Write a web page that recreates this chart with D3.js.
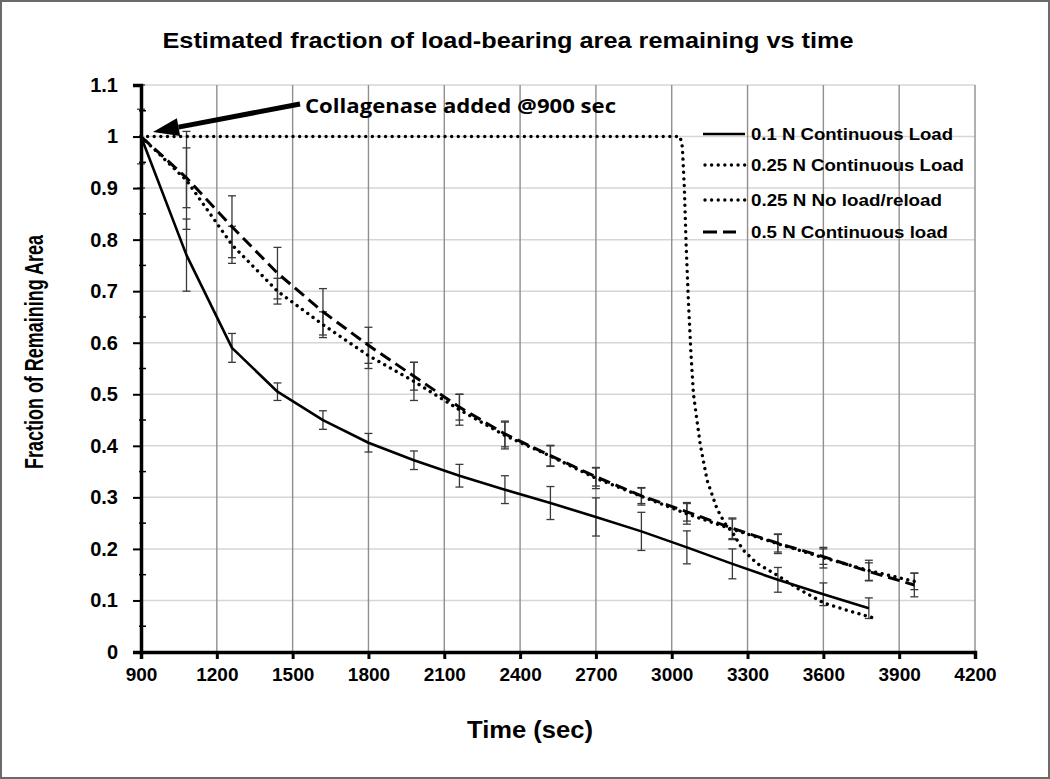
<!DOCTYPE html>
<html><head><meta charset="utf-8">
<script src="https://cdn.jsdelivr.net/npm/d3@7"></script>
<style>body{margin:0;background:#fff}svg{display:block}</style>
</head><body>
<svg id="chart" width="1050" height="779"></svg>
<script>
// ---------------- DATA ----------------
const times = [900,1080,1260,1440,1620,1800,1980,2160,2340,2520,2700,2880,3060,3240,3420,3600,3780,3960];

const load01Value = [1,0.77,0.59,0.505,0.45,0.406,0.372,0.342,0.315,0.289,0.262,0.234,0.203,0.171,0.14,0.112,0.085];
const load01Err   = [0,0.07,0.028,0.017,0.018,0.018,0.018,0.022,0.027,0.032,0.037,0.037,0.032,0.029,0.024,0.022,0.02];

const load025Value = [1,0.915,0.79,0.70,0.635,0.575,0.525,0.47,0.42,0.38,0.337,0.302,0.268,0.238,0.21,0.183,0.158,0.137];
const load025Err   = [0.1,0.095,0.036,0.025,0.025,0.025,0.037,0.03,0.026,0.02,0.02,0.017,0.02,0.02,0.019,0.02,0.02,0.016];

const load05Value = [1,0.92,0.825,0.735,0.66,0.595,0.535,0.475,0.423,0.381,0.34,0.303,0.272,0.24,0.211,0.185,0.156,0.13];
const load05Err   = [0.053,0.058,0.06,0.05,0.045,0.035,0.027,0.025,0.025,0.02,0.018,0.015,0.018,0.02,0.017,0.015,0.017,0.023];

const noloadTime  = [900,3033,3042,3050,3057,3066,3076,3086,3112,3140,3179,3210,3243,3282,3337,3417,3496,3602,3700,3785,3810];
const noloadValue = [1,1,0.98,0.9,0.79,0.68,0.58,0.5,0.405,0.333,0.278,0.25,0.23,0.198,0.172,0.149,0.124,0.095,0.08,0.068,0.065];

const xTickValues = [900,1200,1500,1800,2100,2400,2700,3000,3300,3600,3900,4200];
const yTickValues = [0,0.1,0.2,0.3,0.4,0.5,0.6,0.7,0.8,0.9,1,1.1];
const yTickLabels = ["0","0.1","0.2","0.3","0.4","0.5","0.6","0.7","0.8","0.9","1","1.1"];

const seriesNames = ["0.1 N Continuous Load","0.25 N Continuous Load","0.25 N No load/reload","0.5 N Continuous load"];
const titleText = "Estimated fraction of load-bearing area remaining vs time";
const xTitle = "Time (sec)";
const yTitle = "Fraction of Remaining Area";
const annotationText = "Collagenase added @900 sec";

// ---------------- LAYOUT ----------------
const svg = d3.select("#chart");
const L = 141, R = 975, T = 85, B = 652;
const x = d3.scaleLinear().domain([900,4200]).range([L,R]);
const y = d3.scaleLinear().domain([0,1.1]).range([B,T]);
const boldFont = "'Liberation Sans', Arial, Helvetica, sans-serif";

// outer frame
svg.append("rect").attr("x",1).attr("y",1).attr("width",1048).attr("height",777)
  .attr("fill","#fff").attr("stroke","#6a6a6a").attr("stroke-width",2);

// gridlines
svg.append("g").selectAll("line").data(yTickValues.filter(d=>d>0)).join("line")
  .attr("x1",L).attr("x2",R).attr("y1",d=>y(d)).attr("y2",d=>y(d))
  .attr("stroke","#d6d6d6").attr("stroke-width",1.5);
svg.append("g").selectAll("line").data(xTickValues.filter(d=>d>900)).join("line")
  .attr("x1",d=>x(d)).attr("x2",d=>x(d)).attr("y1",T).attr("y2",B)
  .attr("stroke","#8f8f8f").attr("stroke-width",1.4);

// error bars
const errColor = "#3a3a3a";
function errorBars(vals, errs){
  const g = svg.append("g").attr("stroke",errColor).attr("stroke-width",1.3);
  vals.forEach((v,i)=>{
    const e = errs[i]; if(!e) return;
    const cx = x(times[i]);
    g.append("line").attr("x1",cx).attr("x2",cx).attr("y1",y(v+e)).attr("y2",y(v-e));
    g.append("line").attr("x1",cx-4).attr("x2",cx+4).attr("y1",y(v+e)).attr("y2",y(v+e));
    g.append("line").attr("x1",cx-4).attr("x2",cx+4).attr("y1",y(v-e)).attr("y2",y(v-e));
  });
}
errorBars(load01Value, load01Err);
errorBars(load025Value, load025Err);
errorBars(load05Value, load05Err);

// lines
const line = d3.line().x(d=>x(d[0])).y(d=>y(d[1]));
const styles = [
  {w:2.6, dash:null, cap:"butt"},
  {w:3.4, dash:"0.01 6.6", cap:"round"},
  {w:3.4, dash:"0.01 6.6", cap:"round"},
  {w:3, dash:"12 6", cap:"butt"}
];
const seriesData = [
  load01Value.map((v,i)=>[times[i],v]),
  load025Value.map((v,i)=>[times[i],v]),
  noloadValue.map((v,i)=>[noloadTime[i],v]),
  load05Value.map((v,i)=>[times[i],v])
];
seriesData.forEach((d,i)=>{
  svg.append("path").attr("d",line(d)).attr("fill","none").attr("stroke","#000")
    .attr("stroke-width",styles[i].w).attr("stroke-dasharray",styles[i].dash)
    .attr("stroke-linecap",styles[i].cap).attr("stroke-linejoin","round");
});

// axes
const xAxis = svg.append("g").attr("transform",`translate(0,${B})`)
  .call(d3.axisBottom(x).tickValues(xTickValues).tickSize(7).tickFormat(d3.format("d")));
xAxis.select(".domain").attr("stroke","#000").attr("stroke-width",3.5);
xAxis.selectAll(".tick line").attr("stroke","#000").attr("stroke-width",3);
xAxis.selectAll(".tick text").attr("font-family",boldFont).attr("font-weight","bold")
  .attr("font-size",19).attr("fill","#000").attr("y",16).attr("dy","0.71em");

const yAxis = svg.append("g").attr("transform",`translate(${L},0)`)
  .call(d3.axisLeft(y).tickValues(yTickValues).tickSize(8).tickFormat((d,i)=>yTickLabels[i]));
yAxis.select(".domain").attr("stroke","#000").attr("stroke-width",3.5);
yAxis.selectAll(".tick line").attr("stroke","#000").attr("stroke-width",2);
yAxis.selectAll(".tick text").attr("font-family",boldFont).attr("font-weight","bold")
  .attr("font-size",20).attr("fill","#000").attr("x",-23);
// minor ticks
const minor = d3.range(0.05,1.1,0.1);
svg.append("g").selectAll("line").data(minor).join("line")
  .attr("x1",L-2).attr("x2",L+5).attr("y1",d=>y(d)).attr("y2",d=>y(d))
  .attr("stroke","#000").attr("stroke-width",1.5);

// titles
svg.append("text").attr("x",508).attr("y",48).attr("text-anchor","middle")
  .attr("font-family",boldFont).attr("font-weight","bold").attr("font-size",22)
  .attr("textLength",691).attr("lengthAdjust","spacingAndGlyphs").text(titleText);
svg.append("text").attr("x",530).attr("y",738).attr("text-anchor","middle")
  .attr("font-family",boldFont).attr("font-weight","bold").attr("font-size",24)
  .attr("textLength",126).attr("lengthAdjust","spacingAndGlyphs").text(xTitle);
svg.append("text").attr("transform","translate(43,352) rotate(-90)").attr("text-anchor","middle")
  .attr("font-family","'Liberation Sans Narrow', "+boldFont).attr("font-weight","bold").attr("font-size",26)
  .attr("textLength",234).attr("lengthAdjust","spacingAndGlyphs").text(yTitle);

// annotation arrow
(function(){
  const tip=[153,132], tail=[300,104];
  const ang=Math.atan2(tail[1]-tip[1], tail[0]-tip[0]);
  const hl=26, hw=9;
  const bx=tip[0]+hl*Math.cos(ang), by=tip[1]+hl*Math.sin(ang);
  svg.append("line").attr("x1",tail[0]).attr("y1",tail[1]).attr("x2",bx).attr("y2",by)
    .attr("stroke","#000").attr("stroke-width",5);
  const px=-Math.sin(ang), py=Math.cos(ang);
  svg.append("polygon").attr("points",[tip,[bx+px*hw,by+py*hw],[bx-px*hw,by-py*hw]].map(p=>p.join(",")).join(" "))
    .attr("fill","#000");
})();
svg.append("text").attr("x",305).attr("y",113)
  .attr("font-family","'Open Sans', "+boldFont).attr("font-weight","bold").attr("font-size",19)
  .attr("textLength",311).attr("lengthAdjust","spacingAndGlyphs").text(annotationText);

// legend
const legendRowY = [134,165,200,232];
const legendTextW = [202,213,191,197];
const lg = svg.append("g");
seriesNames.forEach((name,i)=>{
  const ry = legendRowY[i];
  if(i===3){
    lg.append("line").attr("x1",703).attr("x2",717).attr("y1",ry).attr("y2",ry).attr("stroke","#000").attr("stroke-width",3);
    lg.append("line").attr("x1",723).attr("x2",736).attr("y1",ry).attr("y2",ry).attr("stroke","#000").attr("stroke-width",3);
  } else {
    lg.append("line").attr("x1",i===0?703:705).attr("x2",745).attr("y1",ry).attr("y2",ry).attr("stroke","#000")
      .attr("stroke-width",styles[i].w).attr("stroke-dasharray",styles[i].dash).attr("stroke-linecap",styles[i].cap);
  }
  lg.append("text").attr("x",751).attr("y",ry+6).attr("font-family",boldFont).attr("font-weight","bold")
    .attr("font-size",16).attr("textLength",legendTextW[i]).attr("lengthAdjust","spacingAndGlyphs").text(name);
});
</script>
</body></html>
